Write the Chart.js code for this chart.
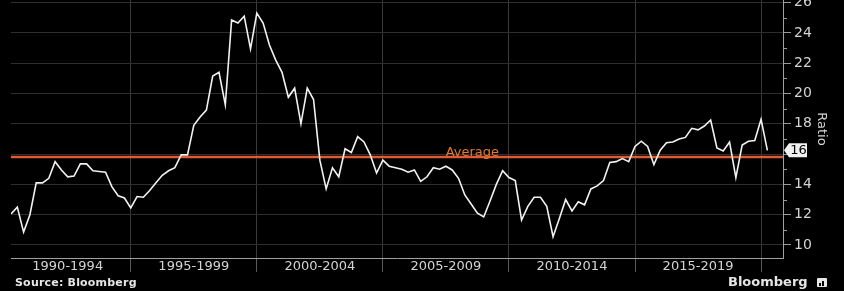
<!DOCTYPE html>
<html>
<head>
<meta charset="utf-8">
<script src="https://cdn.jsdelivr.net/npm/chart.js@4.4.0/dist/chart.umd.min.js"></script>
<style>
  html, body { margin: 0; padding: 0; background: #000; }
  #wrap { position: relative; width: 844px; height: 291px; overflow: hidden; }
  canvas { display: block; }
  .src { position: absolute; left: 15px; top: 276px; font: bold 11px "DejaVu Sans", sans-serif; color: #e6e6e6; letter-spacing: 0.2px; }
  .brand { position: absolute; left: 728px; top: 274px; font: bold 13px "DejaVu Sans", sans-serif; color: #e6e6e6; }
  .icon { position: absolute; left: 817px; top: 278px; width: 10px; height: 9px; background: #e6e6e6; border-radius: 1px; }
  .icon i { position: absolute; bottom: 1px; width: 2px; background: #000; }
</style>
</head>
<body>
<div id="wrap">
  <canvas id="c" width="844" height="291"></canvas>
  <div class="src">Source: Bloomberg</div>
  <div class="brand">Bloomberg</div>
  <div class="icon"><i style="left:2px;height:3px"></i><i style="left:5px;height:5px"></i></div>
</div>
<script>
// quarterly ratio, Q1 1990 .. Q1 2020
const firstQuarter = 1990.25;
const ratio = [
  12.05, 12.5, 10.85, 12.0, 14.1, 14.1, 14.4, 15.5, 14.95, 14.5,
  14.55, 15.35, 15.35, 14.9, 14.85, 14.8, 13.85, 13.25, 13.1, 12.45,
  13.2, 13.15, 13.6, 14.1, 14.6, 14.9, 15.1, 15.95, 15.95, 17.9,
  18.45, 18.9, 21.15, 21.4, 19.25, 24.85, 24.65, 25.1, 22.95, 25.3,
  24.65, 23.2, 22.2, 21.4, 19.75, 20.35, 18.0, 20.35, 19.6, 15.6,
  13.7, 15.1, 14.5, 16.35, 16.1, 17.15, 16.8, 15.95, 14.75, 15.6,
  15.2, 15.1, 15.0, 14.8, 14.95, 14.2, 14.5, 15.1, 15.0, 15.2,
  14.95, 14.4, 13.3, 12.7, 12.1, 11.85, 12.9, 14.0, 14.9, 14.45,
  14.25, 11.65, 12.55, 13.15, 13.15, 12.55, 10.55, 11.75, 13.0, 12.25,
  12.85, 12.65, 13.7, 13.9, 14.25, 15.45, 15.5, 15.7, 15.5, 16.5,
  16.85, 16.5, 15.3, 16.25, 16.75, 16.8, 17.0, 17.1, 17.7, 17.6,
  17.85, 18.25, 16.4, 16.2, 16.8, 14.45, 16.6, 16.85, 16.9, 18.3,
  16.25
];
const average = 15.8;
const periodStarts = [1990, 1995, 2000, 2005, 2010, 2015];
const periodBreaks = [1995, 2000, 2005, 2010, 2015, 2020];
const yTicks = [10, 11, 12, 13, 14, 15, 16, 17, 18, 19, 20, 21, 22, 23, 24, 25, 26];

const xMin = firstQuarter, xMax = 2020.87;
const points = ratio.map((v, i) => ({ x: firstQuarter + i * 0.25, y: v }));

const overlay = {
  id: 'overlay',
  afterDraw(chart) {
    const ctx = chart.ctx, ys = chart.scales.y, xs = chart.scales.x;
    ctx.save();
    // minor y ticks
    ctx.strokeStyle = '#9a9a9a';
    ctx.lineWidth = 1;
    yTicks.filter(v => v % 2).forEach(v => {
      const y = Math.round(ys.getPixelForValue(v)) + 0.5;
      ctx.beginPath(); ctx.moveTo(ys.left, y); ctx.lineTo(ys.left + 4, y); ctx.stroke();
    });
    // average label
    ctx.fillStyle = '#e07a30';
    ctx.font = '13px "DejaVu Sans"';
    ctx.textAlign = 'center';
    ctx.textBaseline = 'alphabetic';
    ctx.fillText('Average', xs.getPixelForValue(2008.55), ys.getPixelForValue(average) - 1);
    // last value marker
    const last = ratio[ratio.length - 1];
    const y = ys.getPixelForValue(last), x0 = ys.left + 1;
    ctx.fillStyle = '#f0f0f0';
    ctx.beginPath();
    ctx.moveTo(x0, y);
    ctx.lineTo(x0 + 5, y - 7);
    ctx.lineTo(x0 + 23, y - 7);
    ctx.lineTo(x0 + 23, y + 7);
    ctx.lineTo(x0 + 5, y + 7);
    ctx.closePath();
    ctx.fill();
    ctx.fillStyle = '#000';
    ctx.font = '13px "DejaVu Sans"';
    ctx.textBaseline = 'middle';
    ctx.fillText(String(Math.round(last)), x0 + 14.5, y + 0.5);
    ctx.restore();
  }
};

new Chart(document.getElementById('c'), {
  type: 'line',
  data: {
    datasets: [
      { data: points, borderColor: '#f2f2f2', borderWidth: 1.6, pointRadius: 0, tension: 0 },
      { data: [{ x: xMin, y: average }, { x: xMax, y: average }], borderColor: '#e05a33', borderWidth: 2.5, pointRadius: 0 }
    ]
  },
  options: {
    responsive: false,
    animation: false,
    events: [],
    layout: { padding: { left: 11, top: 0, right: 0, bottom: 18 } },
    plugins: { legend: { display: false }, tooltip: { enabled: false } },
    scales: {
      x: {
        type: 'linear', min: xMin, max: xMax,
        afterBuildTicks: s => {
          s.ticks = periodStarts.map(v => ({ value: v + 2.5 }))
            .concat(periodBreaks.map(v => ({ value: v })))
            .sort((a, b) => a.value - b.value);
        },
        afterFit: s => { s.height = 15; s.paddingLeft = 0; s.paddingRight = 0; },
        border: { display: true, color: '#a0a0a0', width: 1 },
        grid: {
          color: c => (c.tick && c.tick.value % 5 === 0) ? '#3a3a3a' : 'transparent',
          tickColor: c => (c.tick && c.tick.value % 5 === 0) ? '#5a5a5a' : 'transparent',
          tickLength: 14
        },
        ticks: {
          autoSkip: false, maxRotation: 0, padding: -13,
          color: '#d4d4d4', font: { family: 'DejaVu Sans', size: 13 },
          callback: v => v % 5 === 0 ? '' : (v - 2.5) + '-' + (v + 1.5)
        }
      },
      y: {
        position: 'right', min: 9.14, max: 26.17,
        afterBuildTicks: s => { s.ticks = yTicks.map(v => ({ value: v })); },
        afterFit: s => { s.width = 61; s.paddingTop = 0; s.paddingBottom = 0; },
        border: { display: true, color: '#a0a0a0', width: 1 },
        grid: {
          color: c => (c.tick && c.tick.value % 2 === 0) ? '#2e2e2e' : 'transparent',
          tickColor: c => (c.tick && c.tick.value % 2 === 0) ? '#9a9a9a' : 'transparent',
          tickLength: 8
        },
        ticks: {
          padding: 3, color: '#d4d4d4', font: { family: 'DejaVu Sans', size: 14 },
          callback: v => (v % 2 || v === 16) ? '' : v
        },
        title: {
          display: true, text: 'Ratio', color: '#d4d4d4',
          font: { family: 'DejaVu Sans', size: 13 }, padding: { top: 15, bottom: 0 }
        }
      }
    }
  },
  plugins: [overlay]
});
</script>
</body>
</html>
